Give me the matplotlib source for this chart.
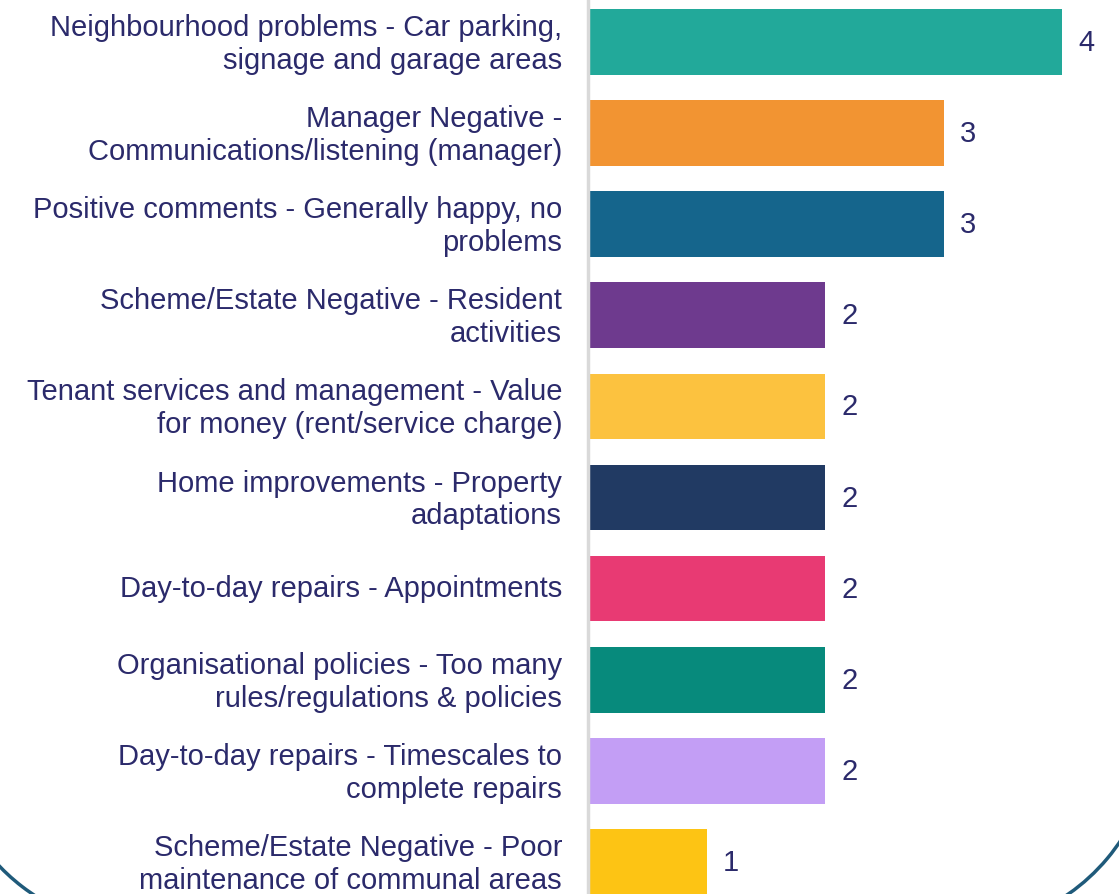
import matplotlib.pyplot as plt
import matplotlib.transforms as mtransforms
from matplotlib.patches import Arc

plt.rcParams['font.family'] = ['Liberation Sans', 'DejaVu Sans']

categories = [
    'Neighbourhood problems - Car parking,\nsignage and garage areas',
    'Manager Negative -\nCommunications/listening (manager)',
    'Positive comments - Generally happy, no\nproblems',
    'Scheme/Estate Negative - Resident\nactivities',
    'Tenant services and management - Value\nfor money (rent/service charge)',
    'Home improvements - Property\nadaptations',
    'Day-to-day repairs - Appointments',
    'Organisational policies - Too many\nrules/regulations & policies',
    'Day-to-day repairs - Timescales to\ncomplete repairs',
    'Scheme/Estate Negative - Poor\nmaintenance of communal areas',
]
values = [4, 3, 3, 2, 2, 2, 2, 2, 2, 1]
colors = ['#22A99A', '#F29432', '#15658C', '#6E3A8E', '#FCC23F',
          '#213A63', '#E83A73', '#078A7C', '#C39EF5', '#FDC414']
text_color = '#2B2A6B'

W, H = 1119, 895
fig = plt.figure(figsize=(W / 100, H / 100), dpi=100)

# axes starts at the gray axis line (x=588 px) and fills the rest
ax = fig.add_axes([588 / W, 0, 1 - 588 / W, 1])
ypos = list(range(len(values)))
ax.barh(ypos, values, height=0.72, color=colors)
ax.set_ylim(9.35, -0.47)
ax.set_xlim(0, (W - 588) / 118.5)

for y, v in zip(ypos, values):
    ax.text(v + 0.14, y, str(v), va='center', ha='left', fontsize=21, color=text_color)

ax.set_yticks(ypos)
ax.set_yticklabels(categories, fontsize=21, color=text_color, linespacing=1.22)
ax.tick_params(axis='y', length=0, pad=18.7)
# nudge labels up a little so the two lines sit centred on the bars
shift = mtransforms.ScaledTranslation(0, 4 / 100, fig.dpi_scale_trans)
for lbl in ax.get_yticklabels():
    lbl.set_transform(lbl.get_transform() + shift)
ax.set_xticks([])
for s in ['top', 'right', 'bottom']:
    ax.spines[s].set_visible(False)
ax.spines['left'].set_color('#D9D9D9')
ax.spines['left'].set_linewidth(2.5)

# decorative rounded frame at the bottom corners
ov = fig.add_axes([0, 0, 1, 1], facecolor='none')
ov.set_xlim(0, W)
ov.set_ylim(H, 0)
ov.axis('off')
ov.add_patch(Arc((144, 729), 400, 400, theta1=105, theta2=150, color='#1F5A7A', lw=2.5))
ov.add_patch(Arc((954, 731), 400, 400, theta1=10, theta2=70, color='#1F5A7A', lw=2.5))

fig.savefig('out.png', dpi=100)
